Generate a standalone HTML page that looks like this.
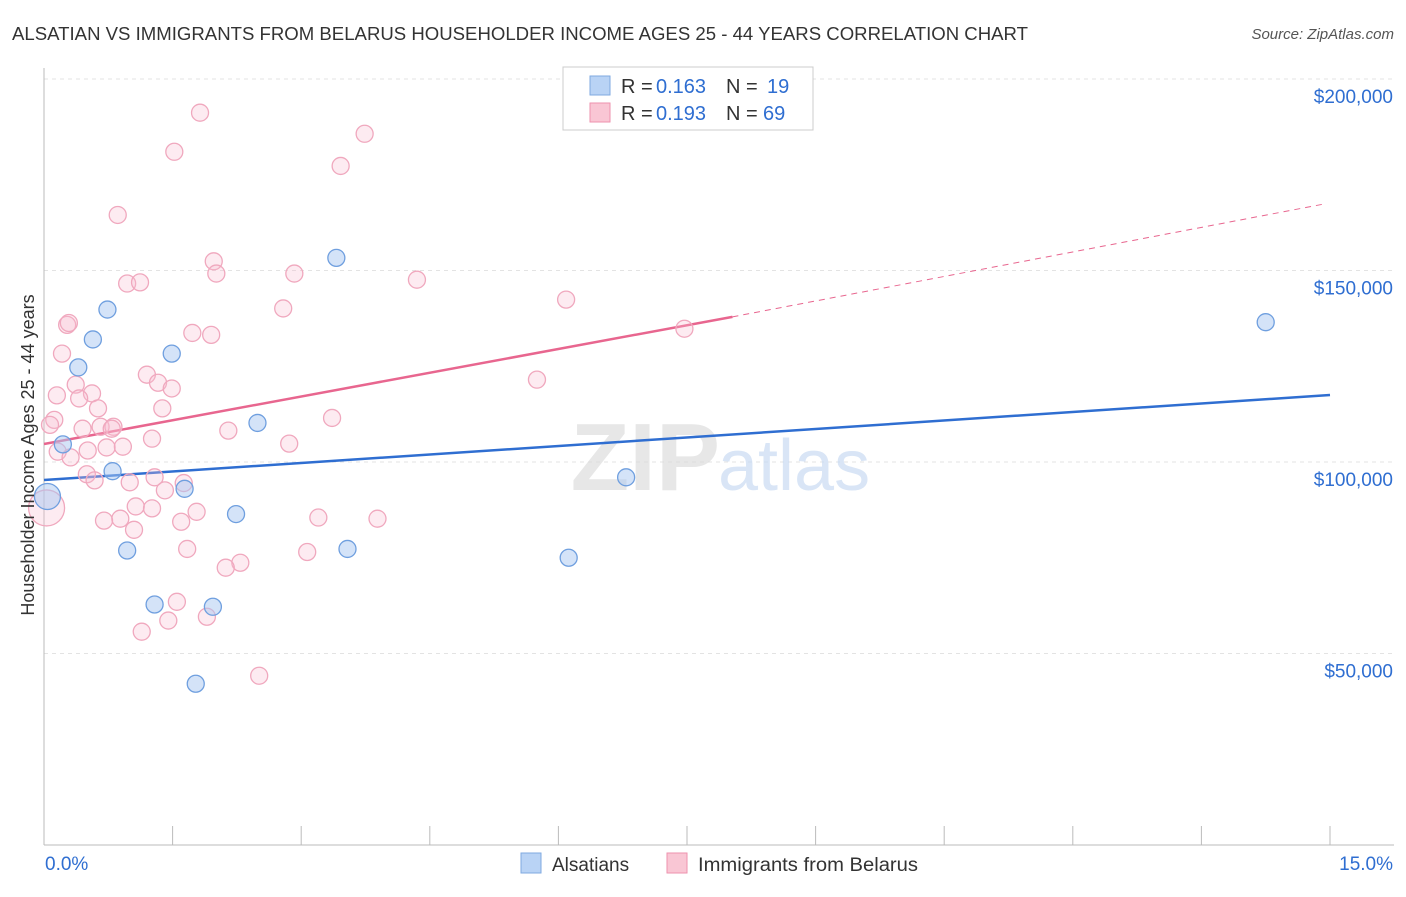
<!DOCTYPE html>
<html><head><meta charset="utf-8"><style>
body{margin:0;background:#fff;font-family:"Liberation Sans",sans-serif;}
svg text{font-family:"Liberation Sans",sans-serif;}
</style></head><body>
<svg id="chart" width="1406" height="892" viewBox="0 0 1406 892">
<text x="12" y="40" font-size="18" fill="#333" textLength="1016" lengthAdjust="spacingAndGlyphs">ALSATIAN VS IMMIGRANTS FROM BELARUS HOUSEHOLDER INCOME AGES 25 - 44 YEARS CORRELATION CHART</text>
<text x="1394" y="39" font-size="15" fill="#555" text-anchor="end" font-style="italic">Source: ZipAtlas.com</text>
<g id="grid"></g>
<text x="720" y="490" font-size="96" fill="#ddd" text-anchor="end" font-family="Liberation Serif" font-weight="bold" opacity="0.7">ZIP</text>
<text x="718" y="490" font-size="72" fill="#c9dbf3" opacity="0.7">atlas</text>
<g id="axes"></g>
<g id="lines"></g>
<g id="points"></g>
<text transform="translate(34,455) rotate(-90)" font-size="18" fill="#333" text-anchor="middle">Householder Income Ages 25 - 44 years</text>
<g>
<rect x="563" y="67" width="250" height="63" fill="#fff" stroke="#ccc"/>
<rect x="590" y="76" width="20" height="19" fill="#b9d3f5" stroke="#7fa9e0"/>
<rect x="590" y="103" width="20" height="19" fill="#f9c6d4" stroke="#ee92ae"/>
<text x="621" y="93" font-size="20" fill="#333">R =</text>
<text x="656" y="93" font-size="20" fill="#2f6ed1">0.163</text>
<text x="726" y="93" font-size="20" fill="#333">N =</text>
<text x="767" y="93" font-size="20" fill="#2f6ed1">19</text>
<text x="621" y="120" font-size="20" fill="#333">R =</text>
<text x="656" y="120" font-size="20" fill="#2f6ed1">0.193</text>
<text x="726" y="120" font-size="20" fill="#333">N =</text>
<text x="763" y="120" font-size="20" fill="#2f6ed1">69</text>
</g>
<g>
<rect x="521" y="853" width="20" height="20" fill="#b9d3f5" stroke="#7fa9e0"/>
<text x="552" y="871" font-size="19" fill="#333">Alsatians</text>
<rect x="667" y="853" width="20" height="20" fill="#f9c6d4" stroke="#ee92ae"/>
<text x="698" y="871" font-size="19" fill="#333" textLength="220" lengthAdjust="spacingAndGlyphs">Immigrants from Belarus</text>
</g>
</svg>
<script>
const xTickVals=[0,1.5,3,4.5,6,7.5,9,10.5,12,13.5,15];
const yTickVals=[50000,100000,150000,200000];
const yTickLabels=["$50,000","$100,000","$150,000","$200,000"];
const blueX=[0.04,0.22,0.4,0.57,0.74,0.8,0.97,1.29,1.49,1.64,1.77,1.97,2.24,2.49,3.41,3.54,6.12,6.79,14.25];
const blueY=[91000,104600,124700,132000,139800,97600,76900,62800,128300,93000,42100,62200,86400,110200,153300,77300,75000,96000,136500];
const pinkX=[1.82,1.52,3.74,3.46,0.86,1.98,2.01,2.92,0.97,1.12,2.79,4.35,6.09,0.27,0.29,1.73,1.95,7.47,0.21,1.2,5.75,0.37,1.33,1.49,0.15,0.56,0.41,0.63,1.38,0.12,3.36,0.07,0.45,0.66,0.81,0.79,2.15,1.26,2.86,0.73,0.92,0.16,0.51,0.31,0.5,0.59,1.29,1.0,1.63,1.41,1.07,1.26,1.78,0.89,0.7,1.6,3.2,3.89,1.05,1.67,3.07,2.29,2.12,1.55,1.9,1.45,1.14,2.51,0.03];
const pinkY=[191200,181000,185700,177300,164500,152400,149200,149200,146600,146900,140100,147600,142400,135800,136300,133700,133200,134800,128300,122800,121500,120200,120700,119200,117400,117900,116600,114000,114000,111000,111500,109700,108700,109200,109200,108700,108200,106100,104800,103800,104000,102700,103000,101200,96800,95200,96000,94700,94500,92600,88400,87900,87000,85200,84700,84400,85500,85200,82300,77300,76500,73700,72400,63500,59600,58600,55700,44200,88000];
const X0=44,X1=1330,YB=845,pxPer=191.5/50000;
const sx=v=>X0+(v/15)*(X1-X0), sy=v=>YB-v*pxPer;
const NS="http://www.w3.org/2000/svg";
function mk(p,t,a){const e=document.createElementNS(NS,t);for(const k in a)e.setAttribute(k,a[k]);p.appendChild(e);return e;}
const grid=document.getElementById('grid'),axes=document.getElementById('axes');
yTickVals.forEach((v,i)=>{
 const g=mk(grid,'line',{x1:X0,x2:1394,y1:sy(v),y2:sy(v),stroke:'#e3e3e3','stroke-dasharray':'4,4'});
 
 
 const t=mk(axes,'text',{x:1393,y:sy(v)+24,'font-size':19,fill:'#2f6ed1','text-anchor':'end'});
 t.textContent=yTickLabels[i];
 
 
});
const tg=mk(grid,'line',{x1:X0,x2:1394,y1:79,y2:79,stroke:'#e3e3e3','stroke-dasharray':'4,4'});
mk(axes,'line',{x1:X0,x2:X0,y1:68,y2:YB,stroke:'#bbb'});
mk(axes,'line',{x1:X0,x2:1394,y1:YB,y2:YB,stroke:'#bbb'});
xTickVals.forEach(v=>{const l=mk(axes,'line',{x1:sx(v),x2:sx(v),y1:826,y2:YB,stroke:'#bbb'});
 
 });
let t=mk(axes,'text',{x:45,y:870,'font-size':19,fill:'#2f6ed1'});t.textContent='0.0%';


t=mk(axes,'text',{x:1393,y:870,'font-size':19,fill:'#2f6ed1','text-anchor':'end'});t.textContent='15.0%';


const lines=document.getElementById('lines');
let l=mk(lines,'line',{x1:sx(0),y1:sy(95300),x2:sx(15),y2:sy(117500),stroke:'#2f6ed1','stroke-width':2.5});


l=mk(lines,'line',{x1:sx(0),y1:sy(104700),x2:sx(8.03),y2:sy(137900),stroke:'#e8668f','stroke-width':2.5});


l=mk(lines,'line',{x1:sx(8.03),y1:sy(137900),x2:sx(14.94),y2:sy(167400),stroke:'#e8668f','stroke-width':1,'stroke-dasharray':'6,5'});


const pts=document.getElementById('points');
pinkX.forEach((x,i)=>{const r=i===pinkX.length-1?18:8.5;
 const c=mk(pts,'circle',{cx:sx(x),cy:sy(pinkY[i]),r:r,fill:'rgba(249,190,208,0.3)',stroke:'#f0a8be','stroke-width':1.3});
 
 });
blueX.forEach((x,i)=>{const r=i===0?13:8.5;
 const c=mk(pts,'circle',{cx:sx(x),cy:sy(blueY[i]),r:r,fill:'rgba(170,200,242,0.5)',stroke:'#6f9fdf','stroke-width':1.3});
 
 });
</script>
</body></html>
